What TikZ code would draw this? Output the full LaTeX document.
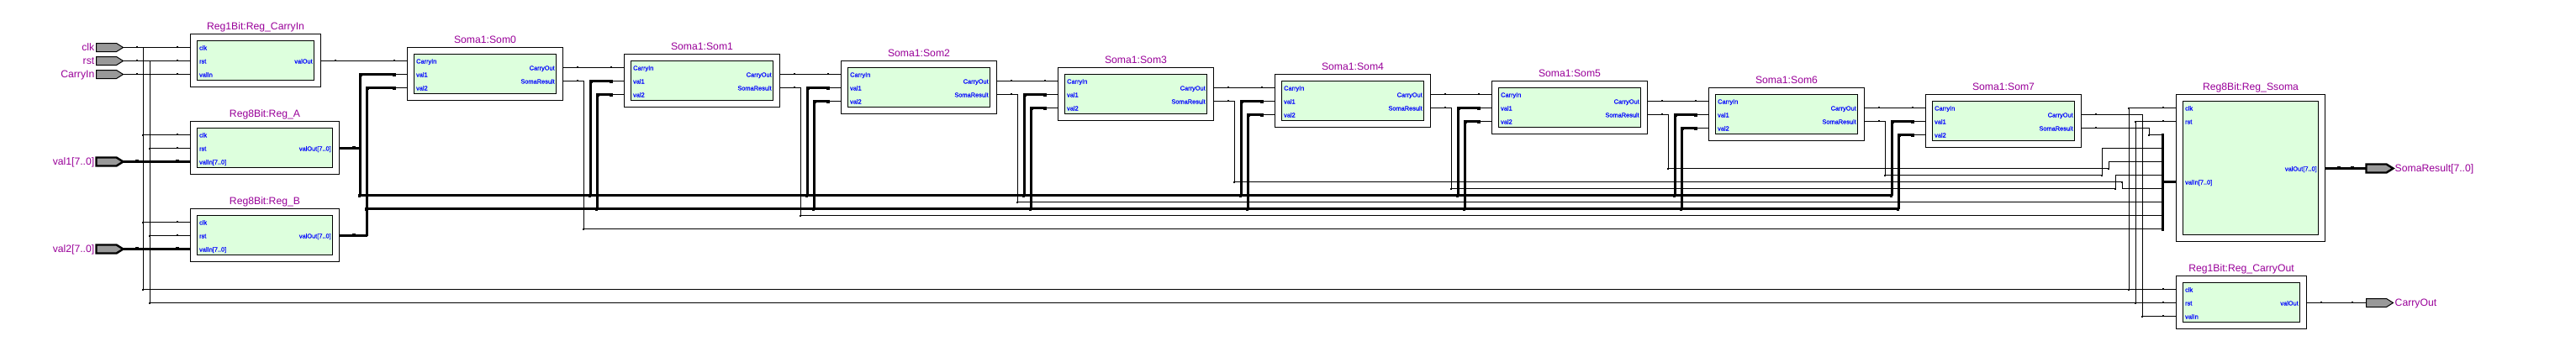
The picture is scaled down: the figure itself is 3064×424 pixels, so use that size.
\documentclass[tikz,border=0pt]{standalone}
\usepackage{fontspec}
\setmainfont{Liberation Sans}
\newfontfamily\portfont[FakeBold=0.5]{Liberation Sans}
\definecolor{lblpurple}{HTML}{990099}
\definecolor{portblue}{HTML}{0000FF}
\definecolor{blkgreen}{HTML}{DDFFDD}
\definecolor{pingray}{HTML}{999999}
\tikzset{
  outerbox/.style={draw=black,fill=white,line width=1pt,rectangle,inner sep=0pt,outer sep=0pt,anchor=north west},
  innerbox/.style={draw=black,fill=blkgreen,line width=1pt,rectangle,inner sep=0pt,outer sep=0pt,anchor=north west},
  blklabel/.style={text=lblpurple,inner sep=0pt,anchor=base,font=\fontsize{12.2}{14}\selectfont},
  pinlabelL/.style={text=lblpurple,inner sep=0pt,anchor=base east,font=\fontsize{12.2}{14}\selectfont},
  pinlabelR/.style={text=lblpurple,inner sep=0pt,anchor=base west,font=\fontsize{12.2}{14}\selectfont},
  portL/.style={text=portblue,inner sep=0pt,anchor=base west,font=\portfont\fontsize{7.4}{9}\selectfont},
  portR/.style={text=portblue,inner sep=0pt,anchor=base east,font=\portfont\fontsize{7.4}{9}\selectfont},
  wire/.style={draw=black,line width=1pt},
  buswire/.style={draw=black,line width=3pt},
  pinthin/.style={draw=black,fill=pingray,line width=1pt},
  pinthick/.style={draw=black,fill=pingray,line width=2.4pt},
}
% block: name, x, y, w, h, label
\newcommand\blk[6]{%
  \node[outerbox,minimum width=#4pt,minimum height=#5pt] (#1) at (#2,#3) {};
  \node[innerbox,minimum width=#4pt-16pt,minimum height=#5pt-16pt] (#1-in) at (#2+8,#3+8) {};
  \node[blklabel] (#1-lbl) at (#2+#4/2,#3-5.5) {#6};
}
% left port: block, port name, x, y, text
\newcommand\pL[5]{%
  \coordinate (#1-#2) at (#3,#4);
  \node[portL] (#1-#2-t) at (#3+10.4,#4+3) {#5};
}
% right port: block, port name, x, y, text
\newcommand\pR[5]{%
  \coordinate (#1-#2) at (#3,#4);
  \node[portR] (#1-#2-t) at (#3-9.6,#4+3) {#5};
}
\newcommand\tk[2]{\fill (#1-1,#2-1.5) rectangle (#1+1,#2);}
\newcommand\tkb[2]{\fill (#1-2,#2-2.5) rectangle (#1+2,#2+1.5);}
\newcommand\jn[2]{\fill (#1-1.5,#2-1) rectangle (#1+0.5,#2+1);}
\newcommand\pinshape[4]{\draw[#4] (#1,#2-5) -- (#1+24,#2-5) -- (#1+32,#2) -- (#1+24,#2+5) -- (#1,#2+5) -- cycle; \coordinate (#3) at (#1+32,#2);}
\begin{document}
\begin{tikzpicture}[x=1pt,y=-1pt]
\useasboundingbox (0,0) rectangle (3064,424);
\fill[white] (0,0) rectangle (3064,424);
\begin{scope}[shift={(0.5,0.5)}]
% ---------- blocks ----------
\blk{RegCI}{226}{40}{155}{63}{Reg1Bit:Reg\_CarryIn}
\pL{RegCI}{clk}{226}{56}{clk}
\pL{RegCI}{rst}{226}{72}{rst}
\pL{RegCI}{in}{226}{88}{valIn}
\pR{RegCI}{out}{381}{72}{valOut}
\blk{RegA}{226}{144}{177}{63}{Reg8Bit:Reg\_A}
\pL{RegA}{clk}{226}{160}{clk}
\pL{RegA}{rst}{226}{176}{rst}
\pL{RegA}{in}{226}{192}{valIn[7..0]}
\pR{RegA}{out}{403}{176}{valOut[7..0]}
\blk{RegB}{226}{248}{177}{63}{Reg8Bit:Reg\_B}
\pL{RegB}{clk}{226}{264}{clk}
\pL{RegB}{rst}{226}{280}{rst}
\pL{RegB}{in}{226}{296}{valIn[7..0]}
\pR{RegB}{out}{403}{280}{valOut[7..0]}
\blk{RegSS}{2588}{112}{177}{175}{Reg8Bit:Reg\_Ssoma}
\pL{RegSS}{clk}{2588}{128}{clk}
\pL{RegSS}{rst}{2588}{144}{rst}
\pL{RegSS}{in}{2588}{216}{valIn[7..0]}
\pR{RegSS}{out}{2765}{200}{valOut[7..0]}
\blk{RegCO}{2588}{328}{155}{63}{Reg1Bit:Reg\_CarryOut}
\pL{RegCO}{clk}{2588}{344}{clk}
\pL{RegCO}{rst}{2588}{360}{rst}
\pL{RegCO}{in}{2588}{376}{valIn}
\pR{RegCO}{out}{2743}{360}{valOut}
\foreach \n in {0,...,7}{
  \pgfmathtruncatemacro\xx{484+258*\n}
  \pgfmathtruncatemacro\yy{56+8*\n}
  \pgfmathtruncatemacro\xr{\xx+185}
  \blk{Som\n}{\xx}{\yy}{185}{63}{Soma1:Som\n}
  \pL{Som\n}{cin}{\xx}{\yy+16}{CarryIn}
  \pL{Som\n}{val1}{\xx}{\yy+32}{val1}
  \pL{Som\n}{val2}{\xx}{\yy+48}{val2}
  \pR{Som\n}{cout}{\xr}{\yy+24}{CarryOut}
  \pR{Som\n}{sr}{\xr}{\yy+40}{SomaResult}
}
% ---------- pins ----------
\pinshape{114}{56}{pclk}{pinthin}
\pinshape{114}{72}{prst}{pinthin}
\pinshape{114}{88}{pcin}{pinthin}
\pinshape{114}{192}{pval1}{pinthick}
\pinshape{114}{296}{pval2}{pinthick}
\node[pinlabelL] (lclk) at (112,60) {clk};
\node[pinlabelL] (lrst) at (112,76) {rst};
\node[pinlabelL] (lcin) at (112,92) {CarryIn};
\node[pinlabelL] (lval1) at (112,196) {val1[7..0]};
\node[pinlabelL] (lval2) at (112,300) {val2[7..0]};
\pinshape{2814}{200}{psr}{pinthick}
\pinshape{2814}{360}{pco}{pinthin}
\coordinate (psrin) at (2814,200);
\coordinate (pcoin) at (2814,360);
\node[pinlabelR] (lsr) at (2848,204) {SomaResult[7..0]};
\node[pinlabelR] (lco) at (2848,364) {CarryOut};
% ---------- clock / reset ----------
\coordinate (clkx) at (170,56);
\coordinate (rstx) at (178,72);
\coordinate (clkr) at (2532,128);
\coordinate (rstr) at (2540,144);
\draw[wire] (pclk) -- (RegCI-clk);
\draw[wire] (prst) -- (RegCI-rst);
\draw[wire] (pcin) -- (RegCI-in);
\draw[wire] (clkx) |- (RegCO-clk);
\draw[wire] (rstx) |- (RegCO-rst);
\draw[wire] (clkx |- RegA-clk) -- (RegA-clk);
\draw[wire] (rstx |- RegA-rst) -- (RegA-rst);
\draw[wire] (clkx |- RegB-clk) -- (RegB-clk);
\draw[wire] (rstx |- RegB-rst) -- (RegB-rst);
\draw[wire] (clkr |- RegCO-clk) |- (RegSS-clk);
\draw[wire] (rstr |- RegCO-rst) |- (RegSS-rst);
\foreach \y in {56,72,88}{\tk{162}{\y}\tk{210}{\y}}
\foreach \y in {160,176,264,280}{\tk{210}{\y}}
\foreach \y in {128,144,344,360,376}{\tk{2572}{\y}}
\jn{170}{160}\jn{178}{176}\jn{170}{264}\jn{178}{280}\jn{170}{344}\jn{178}{360}
\jn{2532}{128}\jn{2540}{144}\jn{2532}{344}\jn{2540}{360}\jn{2548}{376}
% ---------- inputs to registers A, B ----------
\draw[buswire] (pval1) -- (RegA-in);
\draw[buswire] (pval2) -- (RegB-in);
\foreach \y in {192,296}{\tkb{162}{\y}\tkb{210}{\y}}
% ---------- buses A and B ----------
\coordinate (busA) at (428,232);
\coordinate (busB) at (436,248);
\coordinate (busAend) at (2250,232);
\coordinate (busBend) at (2258,248);
\draw[buswire] (RegA-out) -- (busA |- RegA-out);
\draw[buswire] (RegB-out) -- (busB |- RegB-out);
\draw[buswire] (busA) -- (busAend);
\draw[buswire] (busB) -- (busBend);
\draw[buswire] (busB) -- (busB |- RegB-out);
\tkb{420}{176}\tkb{420}{280}
% stubs to val1 / val2 of each adder
\coordinate (Som0-v1x) at (428,88);
\coordinate (Som0-v2x) at (436,104);
\foreach \n in {1,...,7}{
  \pgfmathtruncatemacro\xa{444+258*\n}
  \pgfmathtruncatemacro\xb{452+258*\n}
  \coordinate (Som\n-v1x) at (\xa,232);
  \coordinate (Som\n-v2x) at (\xb,248);
}
\foreach \n in {0,...,7}{
  \pgfmathtruncatemacro\xe{468+258*\n}
  \coordinate (Som\n-v1e) at (\xe,88);
  \coordinate (Som\n-v2e) at (\xe,104);
  \draw[buswire] (Som\n-v1x |- busA) -- (Som\n-v1x |- Som\n-val1) -- (Som\n-v1e |- Som\n-val1);
  \draw[buswire] (Som\n-v2x |- busB) -- (Som\n-v2x |- Som\n-val2) -- (Som\n-v2e |- Som\n-val2);
  \draw[wire] (Som\n-v1e |- Som\n-val1) -- (Som\n-val1);
  \draw[wire] (Som\n-v2e |- Som\n-val2) -- (Som\n-val2);
  \pgfmathtruncatemacro\ya{88+8*\n}
  \pgfmathtruncatemacro\yb{104+8*\n}
  \pgfmathtruncatemacro\xc{\n==0 ? 428 : 444+258*\n}
  \pgfmathtruncatemacro\xd{\n==0 ? 436 : 452+258*\n}
  \fill (\xe-2,\ya-2) rectangle (\xe+2,\ya+2);
  \fill (\xe-2,\yb-2) rectangle (\xe+2,\yb+2);
  \fill (\xc-2,\ya-2) rectangle (\xc+2,\ya+2);
  \fill (\xd-2,\yb-2) rectangle (\xd+2,\yb+2);
  \fill (\xc-3,230) rectangle (\xc,234);
  \fill (\xd-3,246) rectangle (\xd,250);
}
% ---------- carry chain ----------
\draw[wire] (RegCI-out) -- (Som0-cin);
\tk{398}{72}\tk{468}{72}
\foreach \n [evaluate=\n as \m using int(\n+1)] in {0,...,6}{
  \draw[wire] (Som\n-cout) -- (Som\m-cin);
  \pgfmathtruncatemacro\xa{686+258*\n}
  \pgfmathtruncatemacro\xb{726+258*\n}
  \pgfmathtruncatemacro\yc{80+8*\n}
  \tk{\xa}{\yc}\tk{\xb}{\yc}
}
\coordinate (cov) at (2548,376);
\draw[wire] (Som7-cout) -| (cov) -- (RegCO-in);
\tk{2492}{136}
% ---------- sum bits into the output bus ----------
\foreach \i in {0,...,7}{
  \pgfmathtruncatemacro\yb{160+16*\i}
  \coordinate (sb\i) at (2572,\yb);
  \fill (2570,\yb-1.5) rectangle (2572,\yb+1.5);
}
\foreach \n/\lev/\tgt in {0/272/7,1/256/6,2/240/5}{
  \pgfmathtruncatemacro\xv{694+258*\n}
  \pgfmathtruncatemacro\xa{686+258*\n}
  \pgfmathtruncatemacro\yc{96+8*\n}
  \draw[wire] (Som\n-sr) -| (\xv,\lev) -- (sb\tgt);
  \tk{\xa}{\yc}\jn{\xv}{\lev}
}
\foreach \n/\lev/\xj/\tgt in {3/216/2524/4,4/224/2516/3,5/200/2508/2,6/208/2500/1}{
  \pgfmathtruncatemacro\xv{694+258*\n}
  \pgfmathtruncatemacro\xa{686+258*\n}
  \pgfmathtruncatemacro\yc{96+8*\n}
  \draw[wire] (Som\n-sr) -| (\xv,\lev) -- (\xj,\lev) |- (sb\tgt);
  \tk{\xa}{\yc}\jn{\xv}{\lev}\jn{\xj}{\lev}
}
\draw[wire] (Som7-sr) -| (2556,160) -- (sb0);
\tk{2492}{152}\jn{2556}{160}
\draw[line width=3.4pt] (2572,158) -- (2572,274);
\coordinate (sbmid) at (2572,216);
\draw[buswire] (sbmid) -- (RegSS-in);
% ---------- outputs ----------
\draw[buswire] (RegSS-out) -- (psrin);
\tkb{2781}{200}\tkb{2797}{200}
\draw[wire] (RegCO-out) -- (pcoin);
\tk{2760}{360}\tk{2797}{360}
\end{scope}
\end{tikzpicture}
\end{document}
